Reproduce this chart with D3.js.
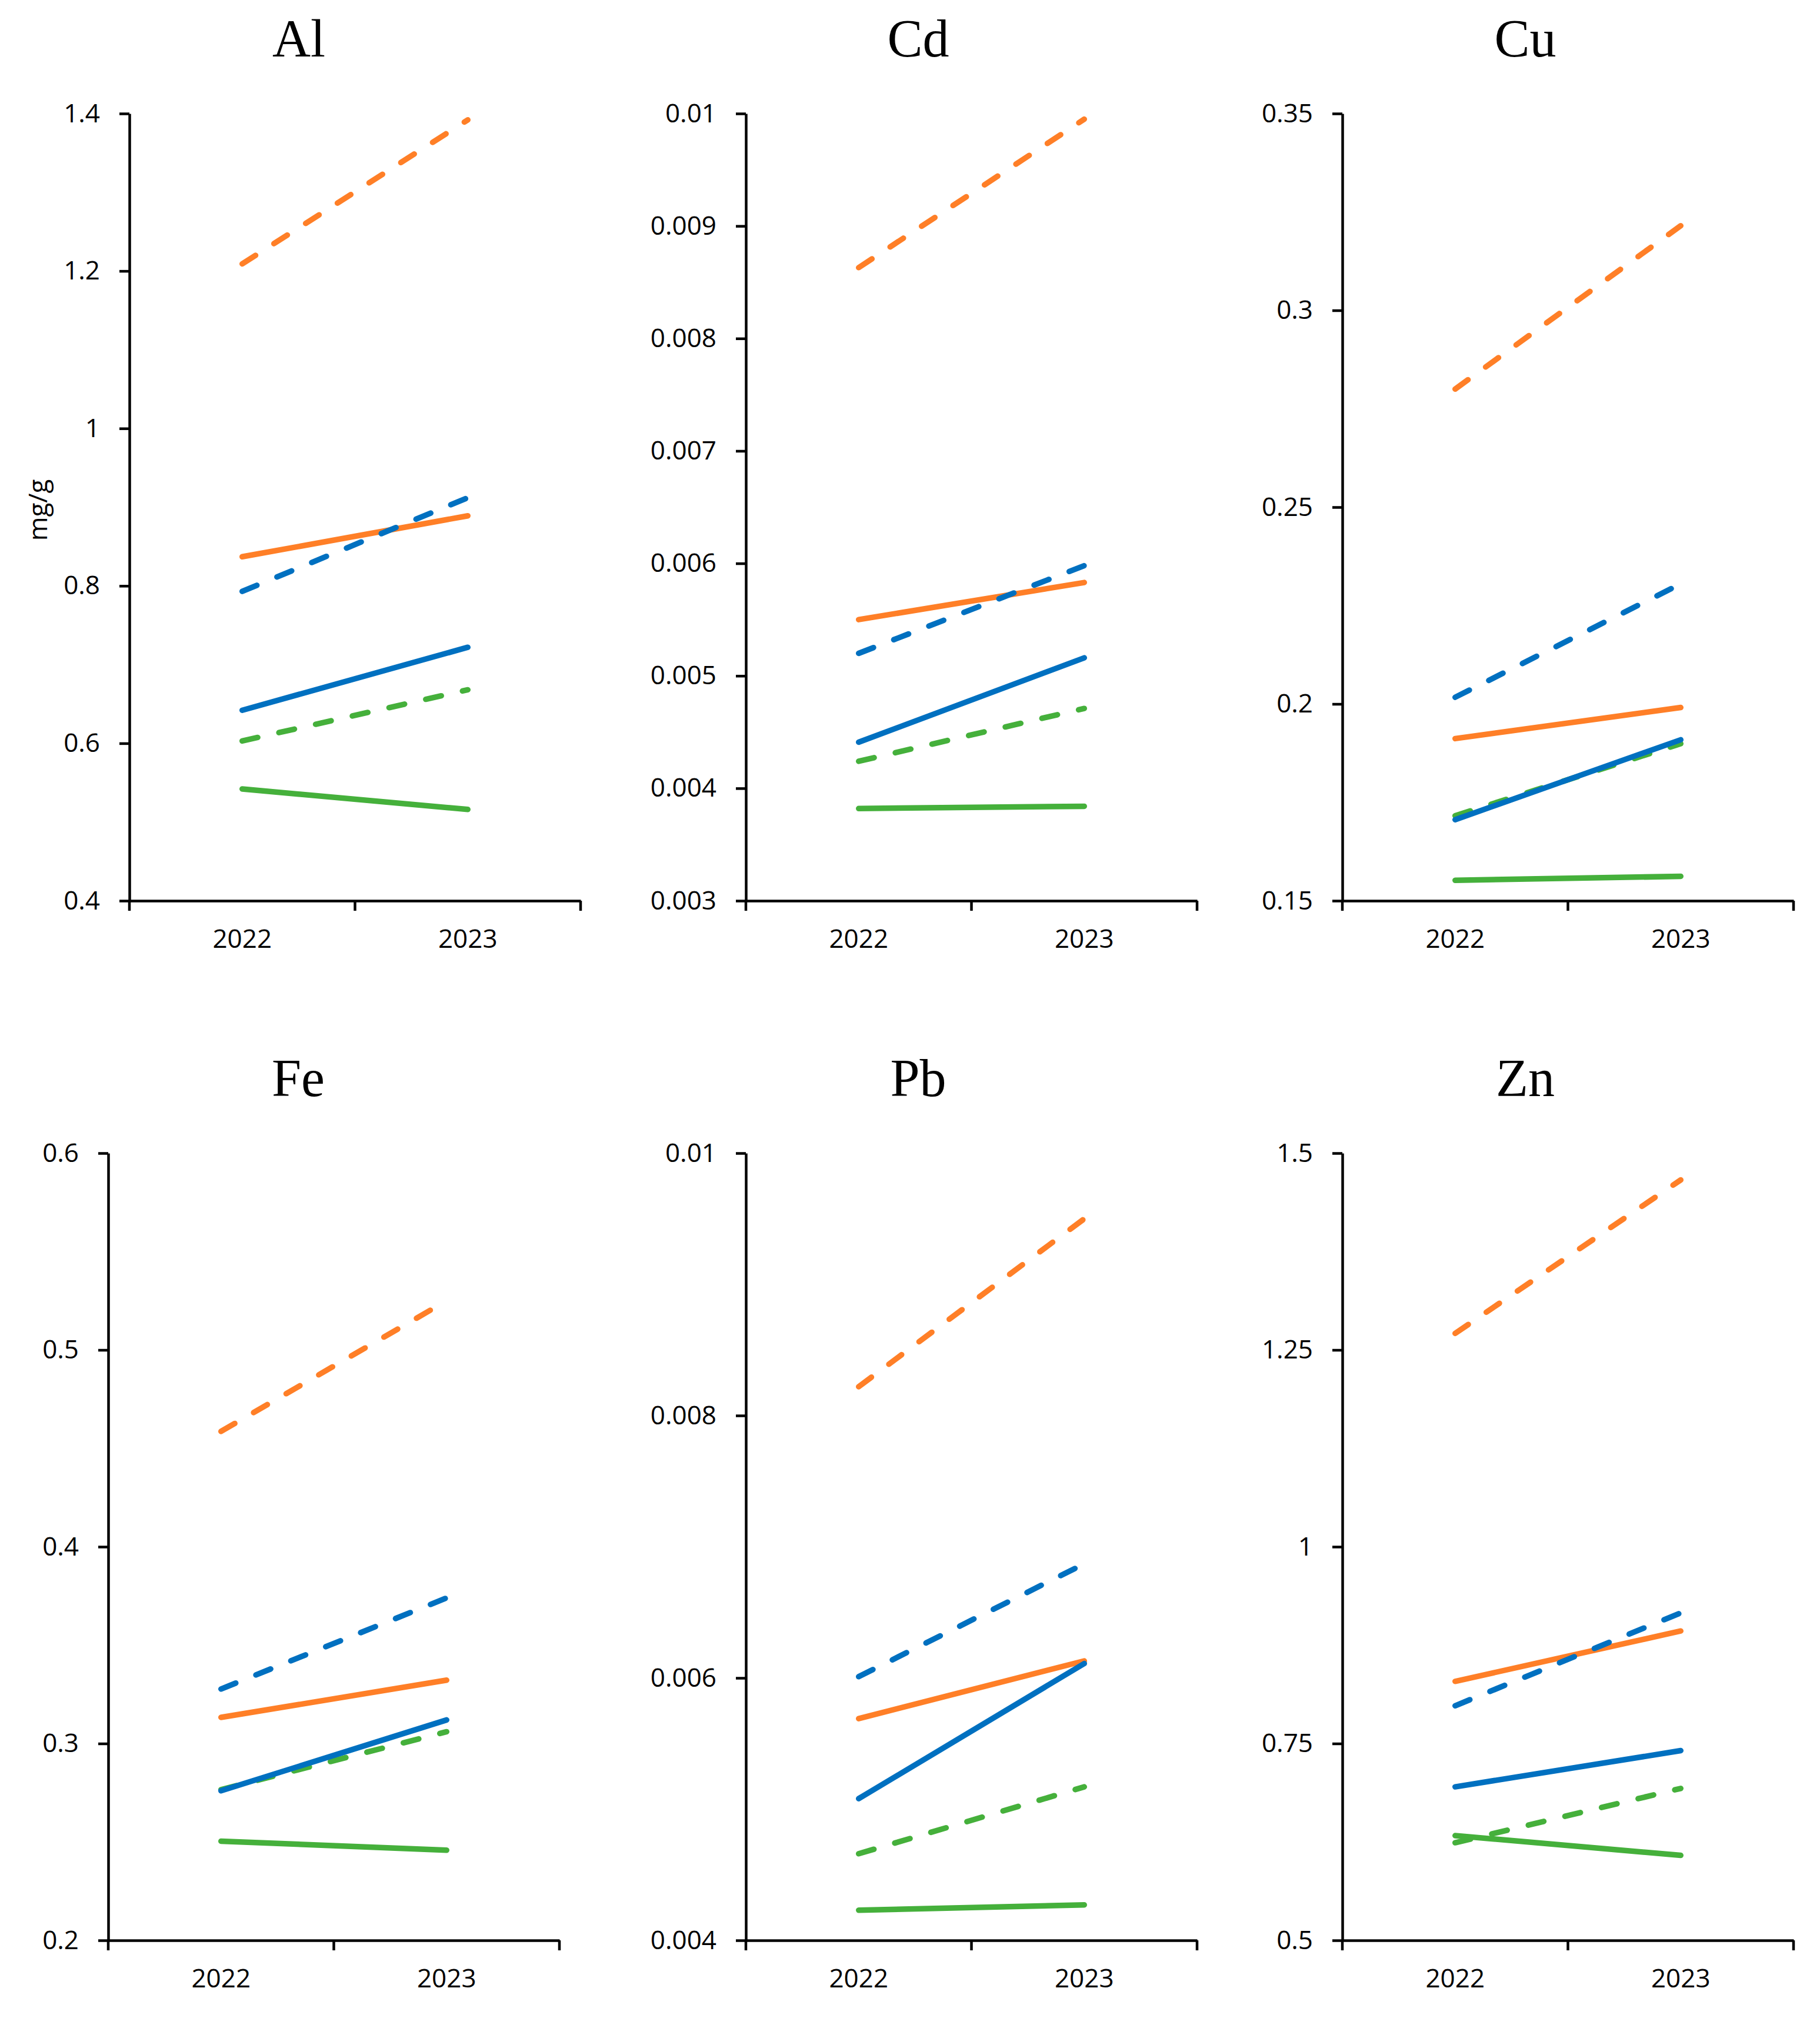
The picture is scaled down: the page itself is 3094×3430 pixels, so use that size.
<!DOCTYPE html>
<html>
<head>
<meta charset="utf-8">
<script src="https://cdn.jsdelivr.net/npm/d3@7"></script>
<style>
  body { margin: 0; background: #fff; }
  .tick text { font-family: "Open Sans", sans-serif; }
</style>
</head>
<body>
<svg id="chart" width="3094" height="3430"></svg>
<script>
const years = ["2022", "2023"];
const elements = ["Al", "Cd", "Cu", "Fe", "Pb", "Zn"];

// y range and tick values for each element panel
const yDomains = [[0.4, 1.4], [0.003, 0.01], [0.15, 0.35], [0.2, 0.6], [0.004, 0.01], [0.5, 1.5]];
const yTicks = [
  [0.4, 0.6, 0.8, 1, 1.2, 1.4],
  [0.003, 0.004, 0.005, 0.006, 0.007, 0.008, 0.009, 0.01],
  [0.15, 0.2, 0.25, 0.3, 0.35],
  [0.2, 0.3, 0.4, 0.5, 0.6],
  [0.004, 0.006, 0.008, 0.01],
  [0.5, 0.75, 1, 1.25, 1.5]
];

// one [2022, 2023] pair per element, in the order of `elements`
const orangeSolid  = [[0.837, 0.889], [0.00550, 0.00583], [0.1912, 0.1991], [0.3133, 0.3322], [0.00569, 0.00613], [0.829, 0.893]];
const orangeDashed = [[1.209, 1.392], [0.00863, 0.00995], [0.2800, 0.3215], [0.4586, 0.5250], [0.00822, 0.00950], [1.271, 1.466]];
const blueSolid    = [[0.642, 0.722], [0.00441, 0.00516], [0.1706, 0.1909], [0.2760, 0.3120], [0.00508, 0.00611], [0.695, 0.741]];
const blueDashed   = [[0.793, 0.912], [0.00520, 0.00598], [0.2017, 0.2305], [0.3277, 0.3740], [0.00601, 0.00687], [0.798, 0.916]];
const greenSolid   = [[0.542, 0.516], [0.00382, 0.00384], [0.1552, 0.1562], [0.2504, 0.2458], [0.00423, 0.00427], [0.633, 0.608]];
const greenDashed  = [[0.603, 0.668], [0.00424, 0.00471], [0.1716, 0.1899], [0.2766, 0.3060], [0.00466, 0.00517], [0.624, 0.693]];

const seriesList = [
  { values: orangeSolid,  color: "#FF7F27", dashed: false },
  { values: orangeDashed, color: "#FF7F27", dashed: true },
  { values: greenDashed,  color: "#45B03B", dashed: true },
  { values: greenSolid,   color: "#45B03B", dashed: false },
  { values: blueSolid,    color: "#0070C0", dashed: false },
  { values: blueDashed,   color: "#0070C0", dashed: true }
];

// panel layout: y-axis x position, plot top/bottom and title centre
const layout = [
  { x: 220,  top: 193,  bottom: 1531, tx: 508 },
  { x: 1268, top: 193,  bottom: 1531, tx: 1561 },
  { x: 2282, top: 193,  bottom: 1531, tx: 2593 },
  { x: 184,  top: 1960, bottom: 3298, tx: 507 },
  { x: 1268, top: 1960, bottom: 3298, tx: 1561 },
  { x: 2282, top: 1960, bottom: 3298, tx: 2593 }
];
const plotW = 767;

const svg = d3.select("#chart");

elements.forEach(function(el, i) {
  const L = layout[i];
  const g = svg.append("g").attr("transform", `translate(${L.x},${L.top})`);
  const h = L.bottom - L.top;

  const x = d3.scaleBand().domain(years).range([0, plotW]);
  const y = d3.scaleLinear().domain(yDomains[i]).range([h, 0]);

  // title
  svg.append("text")
    .attr("x", L.tx)
    .attr("y", L.top - 97)
    .attr("text-anchor", "middle")
    .style("font-family", "'Liberation Serif', 'Times New Roman', serif")
    .style("font-size", "90px")
    .text(el);

  // y axis
  const yAxis = g.append("g")
    .call(d3.axisLeft(y)
      .tickValues(yTicks[i])
      .tickSize(17)
      .tickSizeOuter(0)
      .tickPadding(33)
      .tickFormat(d => String(+d.toFixed(4))));
  yAxis.selectAll("text").style("font-size", "44px").attr("fill", "#000");
  yAxis.selectAll("line").attr("stroke", "#000").attr("stroke-width", 4.5);
  yAxis.select(".domain").attr("stroke", "#000").attr("stroke-width", 4.5);

  // x axis: labels at band centres, ticks at band edges
  const xAxis = g.append("g")
    .attr("transform", `translate(0,${h})`)
    .call(d3.axisBottom(x).tickSize(0).tickPadding(49));
  xAxis.selectAll("text").style("font-size", "44px").attr("fill", "#000");
  xAxis.select(".domain").attr("stroke", "#000").attr("stroke-width", 4.5);
  const edges = years.map(d => x(d)).concat([x.range()[1]]);
  xAxis.selectAll("line.edge")
    .data(edges)
    .join("line")
    .attr("class", "edge")
    .attr("x1", d => d).attr("x2", d => d)
    .attr("y1", 0).attr("y2", 17)
    .attr("stroke", "#000")
    .attr("stroke-width", 4.5);

  const line = d3.line()
    .x((d, j) => x(years[j]) + x.bandwidth() / 2)
    .y(d => y(d));

  seriesList.forEach(function(s) {
    g.append("path")
      .datum(s.values[i])
      .attr("d", line)
      .attr("fill", "none")
      .attr("stroke", s.color)
      .attr("stroke-width", 9.5)
      .attr("stroke-linecap", "round")
      .attr("stroke-dasharray", s.dashed ? "27,37" : null);
  });
});

// y axis title
svg.append("text")
  .attr("transform", "translate(80,867) rotate(-90)")
  .attr("text-anchor", "middle")
  .style("font-family", "'Open Sans', sans-serif")
  .style("font-size", "44px")
  .text("mg/g");
</script>
</body>
</html>
